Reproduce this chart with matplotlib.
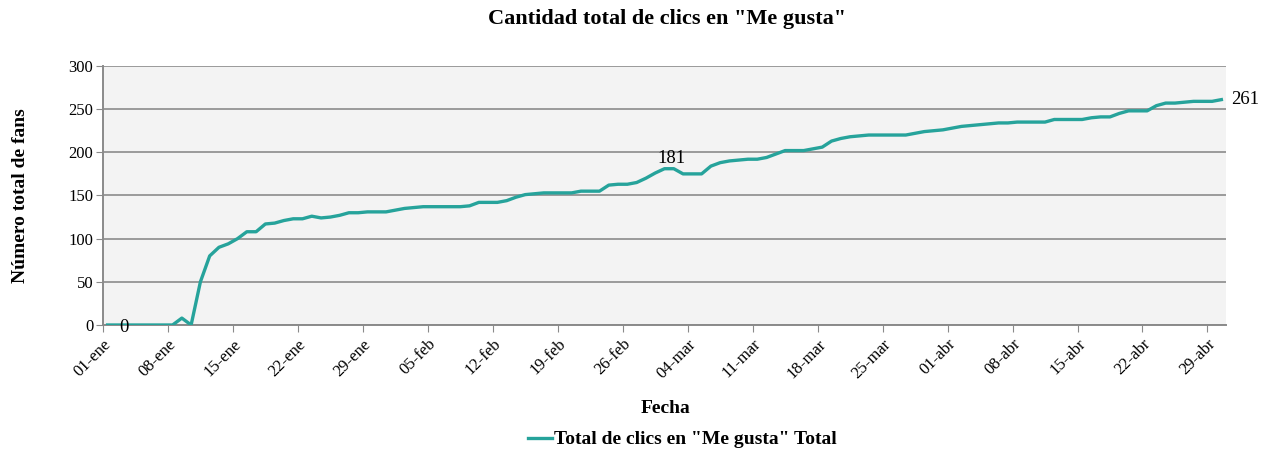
import matplotlib
matplotlib.use('Agg')
import matplotlib.pyplot as plt
import matplotlib.transforms as mtransforms
import numpy as np
import pandas as pd

# daily totals, 01-ene .. 30-abr (2012)
dates = pd.date_range('2012-01-01', '2012-04-30', freq='D')
fans = [
    0, 0, 0, 0, 0, 0, 0, 0, 8, 0,
    50, 80, 90, 94, 100, 108, 108, 117, 118, 121,
    123, 123, 126, 124, 125, 127, 130, 130, 131, 131,
    131, 133, 135, 136, 137, 137, 137, 137, 137, 138,
    142, 142, 142, 144, 148, 151, 152, 153, 153, 153,
    153, 155, 155, 155, 162, 163, 163, 165, 170, 176,
    181, 181, 175, 175, 175, 184, 188, 190, 191, 192,
    192, 194, 198, 202, 202, 202, 204, 206, 213, 216,
    218, 219, 220, 220, 220, 220, 220, 222, 224, 225,
    226, 228, 230, 231, 232, 233, 234, 234, 235, 235,
    235, 235, 238, 238, 238, 238, 240, 241, 241, 245,
    248, 248, 248, 254, 257, 257, 258, 259, 259, 259,
    261,
]
meses = ['ene', 'feb', 'mar', 'abr']
labelled = [0, 60, 120]  # points carrying a data label

title = 'Cantidad total de clics en "Me gusta"'
series_name = 'Total de clics en "Me gusta" Total'

plt.rcParams['font.family'] = ['Liberation Serif', 'DejaVu Serif']
teal = '#26a39b'

fig = plt.figure(figsize=(12.71, 4.58), dpi=100)
ax = fig.add_axes([0.081, 0.2904, 0.8836, 0.5656])
ax.set_facecolor('#f3f3f3')

x = np.arange(len(fans))
line, = ax.plot(x, fans, color=teal, linewidth=2.4, solid_joinstyle='round',
                label=series_name, zorder=3)

for i in labelled:
  if i == 0:
    ax.annotate(str(fans[i]), (x[i], fans[i]), xytext=(12, -2),
                textcoords='offset points', ha='center', va='center',
                fontsize=13.5)
  elif i == len(fans) - 1:
    ax.annotate(str(fans[i]), (x[i], fans[i]), xytext=(7, 0),
                textcoords='offset points', ha='left', va='center',
                fontsize=13.5)
  else:
    ax.annotate(str(fans[i]), (x[i], fans[i]), xytext=(5, 7),
                textcoords='offset points', ha='center', va='center',
                fontsize=13.5)

# category axis: ticks sit between categories, one every week
tick_pos = np.arange(0, len(fans), 7) - 0.5
tick_lab = ['%02d-%s' % (dates[int(p + 0.5)].day, meses[dates[int(p + 0.5)].month - 1])
            for p in tick_pos]
ax.set_xticks(tick_pos)
ax.set_xticklabels(tick_lab, rotation=45, ha='right', rotation_mode='anchor',
                   fontsize=12)
ax.set_xlim(-0.5, len(fans) - 0.5)
# labels end a bit right of their tick, as in the original
shift = mtransforms.ScaledTranslation(6 / 100, -3 / 100, fig.dpi_scale_trans)
for lab in ax.get_xticklabels():
  lab.set_transform(lab.get_transform() + shift)

ax.set_ylim(0, 300)
ax.set_yticks(np.arange(0, 301, 50))
ax.tick_params(axis='y', labelsize=12, length=5, color='#8a8a8a', pad=2)
ax.tick_params(axis='x', length=5, color='#8a8a8a', pad=3)
ax.yaxis.grid(True, color='#9a9a9a', linewidth=1.4)
ax.set_axisbelow(True)

for s in ['top', 'right']:
  ax.spines[s].set_visible(False)
for s in ['left', 'bottom']:
  ax.spines[s].set_color('#8a8a8a')
  ax.spines[s].set_linewidth(1.4)

ax.set_ylabel('Número total de fans', fontsize=14, fontweight='bold')
ax.yaxis.set_label_coords(-0.066, 0.5)
fig.text(0.524, 0.108, 'Fecha', ha='center', va='center', fontsize=14,
         fontweight='bold')
fig.text(0.525, 0.958, title, ha='center', va='center', fontsize=16,
         fontweight='bold')

fig.legend(handles=[line], loc='center', bbox_to_anchor=(0.537, 0.040),
           frameon=False, handlelength=1.25, handletextpad=0.1,
           prop={'weight': 'bold', 'size': 14})

fig.savefig('out.png', dpi=100)
